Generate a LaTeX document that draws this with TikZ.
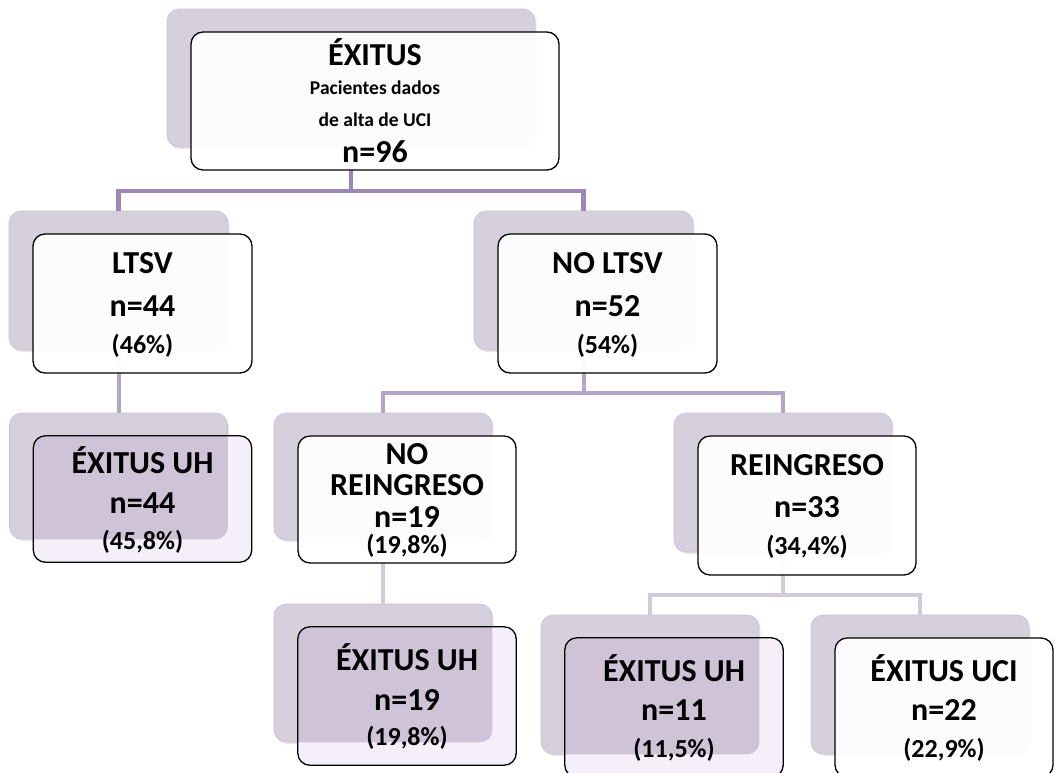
\documentclass[tikz,border=0pt]{standalone}
\usepackage{fontspec}
\setmainfont{Carlito}
\usetikzlibrary{shadows}

\definecolor{backc}{HTML}{D6D0DD}
\definecolor{backedge}{HTML}{C9C2D1}
\definecolor{lilac}{HTML}{F5EFFA}
\definecolor{lilacdark}{HTML}{CFC3D8}
\definecolor{linkA}{HTML}{9D87B6}
\definecolor{linkB}{HTML}{B3A6C8}
\definecolor{linkC}{HTML}{D2CBDC}

\tikzset{
  backbox/.style={rectangle, rounded corners=12pt, fill=backc, draw=backedge,
    line width=0.6pt, inner sep=0pt,
    drop shadow={opacity=0.18, shadow xshift=1.5pt, shadow yshift=-2pt}},
  frontbox/.style={rectangle, rounded corners=12pt, fill=white, fill opacity=0.95,
    draw=black, draw opacity=1, line width=1.3pt, inner sep=0pt},
  lilacbox/.style={rectangle, rounded corners=12pt, fill=lilac, inner sep=0pt},
  lilacedge/.style={draw=black, line width=1.3pt, rounded corners=12pt},
  linkone/.style={draw=linkA, line width=4.5pt},
  linktwo/.style={draw=linkB, line width=4pt},
  linkthree/.style={draw=linkC, line width=4pt},
  big/.style={font=\fontsize{32}{34}\selectfont\bfseries, inner sep=0pt},
  sub/.style={font=\fontsize{19.5}{21}\selectfont\bfseries, inner sep=0pt},
  pct/.style={font=\fontsize{26}{28}\selectfont\bfseries, inner sep=0pt},
}

\begin{document}
\begin{tikzpicture}[x=1pt, y=-1pt]
\useasboundingbox (0,0) rectangle (1056,772);

% back layer of every box
\node[backbox, minimum width=368pt, minimum height=138pt] (topB)     at (351,78)     {};
\node[backbox, minimum width=219pt, minimum height=139pt] (ltsvB)    at (118.5,280.5) {};
\node[backbox, minimum width=219pt, minimum height=139pt] (noltsvB)  at (583.5,280.5) {};
\node[backbox, minimum width=218pt, minimum height=126pt] (uhaB)     at (118.5,476)  {};
\node[backbox, minimum width=218pt, minimum height=127pt] (noreingB) at (383,476.5)  {};
\node[backbox, minimum width=218pt, minimum height=139pt] (reingB)   at (783,482.5)  {};
\node[backbox, minimum width=218pt, minimum height=138pt] (uhbB)     at (383,673)    {};
\node[backbox, minimum width=218pt, minimum height=139pt] (uhcB)     at (650,684.5)  {};
\node[backbox, minimum width=218pt, minimum height=139pt] (uciB)     at (920,684.5)  {};

% connectors
\coordinate (j1) at (351,191);
\coordinate (j2) at (583.5,393);
\coordinate (j3) at (783,595);
\draw[linkone] (topB.south) -- (j1) -| (ltsvB.north);
\draw[linkone] (j1) -| (noltsvB.north);
\draw[linktwo] (ltsvB.south) -- (uhaB.north);
\draw[linktwo] (noltsvB.south) -- (j2) -| (noreingB.north);
\draw[linktwo] (j2) -| (reingB.north);
\draw[linkthree] (noreingB.south) -- (uhbB.north);
\draw[linkthree] (reingB.south) -- (j3) -| (uhcB.north);
\draw[linkthree] (j3) -| (uciB.north);

% white front boxes
\node[frontbox, minimum width=368pt, minimum height=138pt] (topF)     at ([xshift=24pt,yshift=-23pt]topB.center) {};
\node[frontbox, minimum width=219pt, minimum height=139pt] (ltsvF)    at ([xshift=24pt,yshift=-23pt]ltsvB.center) {};
\node[frontbox, minimum width=219pt, minimum height=139pt] (noltsvF)  at ([xshift=24pt,yshift=-23pt]noltsvB.center) {};
\node[frontbox, minimum width=218pt, minimum height=127pt] (noreingF) at ([xshift=24pt,yshift=-23pt]noreingB.center) {};
\node[frontbox, minimum width=218pt, minimum height=139pt] (reingF)   at ([xshift=24pt,yshift=-23pt]reingB.center) {};
\node[frontbox, minimum width=218pt, minimum height=139pt] (uciF)     at ([xshift=24pt,yshift=-23pt]uciB.center) {};

% lilac front boxes, darker where they lie over their back layer
\foreach \b/\f/\h in {uhaB/uhaF/126, uhbB/uhbF/138, uhcB/uhcF/139}{
  \node[lilacbox, minimum width=218pt, minimum height=\h pt] (\f) at ([xshift=24pt,yshift=-23pt]\b.center) {};
  \begin{scope}
    \clip[rounded corners=12pt] (\b.south west) rectangle (\b.north east);
    \fill[lilacdark, rounded corners=12pt] (\f.south west) rectangle (\f.north east);
  \end{scope}
  \draw[lilacedge] (\f.south west) rectangle (\f.north east);
}

% texts
\node[big] (t1a) at (375,52)  {ÉXITUS};
\node[sub] (t1b) at (375,88)  {Pacientes dados};
\node[sub] (t1c) at (375,120) {de alta de UCI};
\node[big] (t1d) at (375,152) {n=96};

\node[big] (t2a) at (142.5,263) {LTSV};
\node[big] (t2b) at (142.5,306) {n=44};
\node[pct] (t2c) at (142.5,346) {(46\%)};

\node[big] (t3a) at (607.5,263) {NO LTSV};
\node[big] (t3b) at (607.5,306) {n=52};
\node[pct] (t3c) at (607.5,346) {(54\%)};

\node[big] (t4a) at (142.5,460) {ÉXITUS UH};
\node[big] (t4b) at (142.5,503) {n=44};
\node[pct] (t4c) at (142.5,542) {(45,8\%)};

\node[big] (t5a) at (407,454) {NO};
\node[big] (t5b) at (407,485) {REINGRESO};
\node[big] (t5c) at (407,517) {n=19};
\node[pct] (t5d) at (407,546) {(19,8\%)};

\node[big] (t6a) at (807,465) {REINGRESO};
\node[big] (t6b) at (807,507) {n=33};
\node[pct] (t6c) at (807,547) {(34,4\%)};

\node[big] (t7a) at (407,657) {ÉXITUS UH};
\node[big] (t7b) at (407,700) {n=19};
\node[pct] (t7c) at (407,738) {(19,8\%)};

\node[big] (t8a) at (674,668) {ÉXITUS UH};
\node[big] (t8b) at (674,710) {n=11};
\node[pct] (t8c) at (674,750) {(11,5\%)};

\node[big] (t9a) at (944,668) {ÉXITUS UCI};
\node[big] (t9b) at (944,710) {n=22};
\node[pct] (t9c) at (944,750) {(22,9\%)};
\end{tikzpicture}
\end{document}
